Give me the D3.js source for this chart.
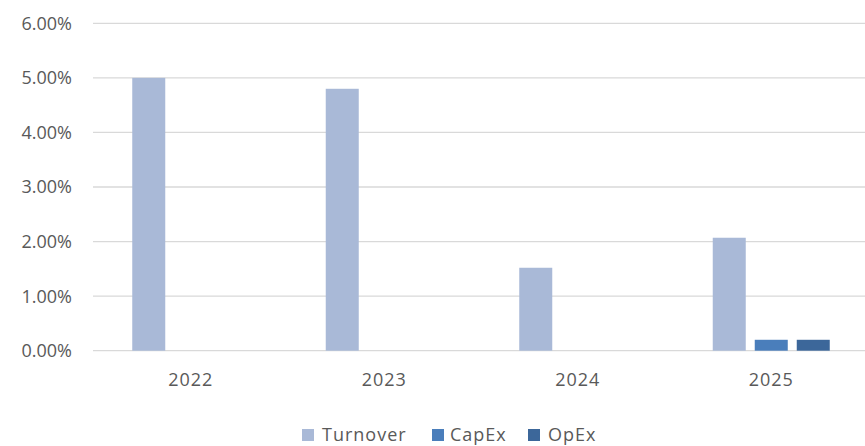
<!DOCTYPE html>
<html><head><meta charset="utf-8">
<script src="https://cdn.jsdelivr.net/npm/d3@7"></script>
<style>body{margin:0;background:#fff}svg{display:block}</style>
</head><body><svg id="c" width="865" height="446"></svg>
<script>
const categories = ["2022","2023","2024","2025"];
const seriesNames = ["Turnover","CapEx","OpEx"];
const turnover = [5.0, 4.8, 1.52, 2.07];
const capex = [0, 0, 0, 0.2];
const opex = [0, 0, 0, 0.2];
const yTicks = [0,1,2,3,4,5,6];
const colors = ["#A9B9D7","#4A7EBB","#3C679A"];

(function(){
const values = [turnover, capex, opex];
const svg = d3.select("#c");
const mLeft = 94, mRight = 868, mTop = 23.3, mBottom = 350.7;
const font = "'Open Sans', sans-serif";
const x = d3.scaleBand().domain(categories).range([mLeft, mRight]).paddingInner(0).paddingOuter(0);
const y = d3.scaleLinear().domain([0,6]).range([mBottom, mTop]);
const bw = 33, gap = 9;
const groupW = bw*3+gap*2;
const inner = d3.scaleBand().domain(seriesNames).range([0, groupW]).paddingInner(gap/(bw+gap)).paddingOuter(0);

svg.append("g").selectAll("line").data(yTicks).join("line")
  .attr("x1", 93).attr("x2", 865)
  .attr("y1", d => y(d)).attr("y2", d => y(d))
  .attr("stroke", "#D9D9D9").attr("stroke-width", 1.3);

svg.append("g").selectAll("text").data(yTicks).join("text")
  .attr("x", 72).attr("y", d => y(d)).attr("dy", "0.36em")
  .attr("text-anchor", "end").attr("font-family", font).attr("font-size", 18)
  .attr("fill", "#595959").text(d => d.toFixed(2) + "%");

seriesNames.forEach((s, si) => {
  svg.append("g").selectAll("rect").data(categories.map((c,i)=>({c, v: values[si][i]})).filter(d=>d.v>0)).join("rect")
    .attr("x", d => x(d.c) + x.bandwidth()/2 - groupW/2 + inner(s))
    .attr("width", inner.bandwidth())
    .attr("y", d => y(d.v))
    .attr("height", d => y(0) - y(d.v))
    .attr("fill", colors[si]);
});

svg.append("g").selectAll("text").data(categories).join("text")
  .attr("x", d => x(d) + x.bandwidth()/2).attr("y", 380).attr("dy", "0.36em")
  .attr("text-anchor", "middle").attr("font-family", font).attr("font-size", 18)
  .attr("letter-spacing", 1).attr("fill", "#595959").text(d => d);

const lg = svg.append("g");
const legX = [302, 432, 528];
const legTX = [322, 450, 548];
seriesNames.forEach((s, i) => {
  lg.append("rect").attr("x", legX[i]).attr("y", 429).attr("width", 12).attr("height", 12).attr("fill", colors[i]);
  lg.append("text").attr("x", legTX[i]).attr("y", 441)
    .attr("font-family", font).attr("font-size", 18).attr("letter-spacing", 1)
    .attr("fill", "#595959").text(s);
});
})();
</script></body></html>
